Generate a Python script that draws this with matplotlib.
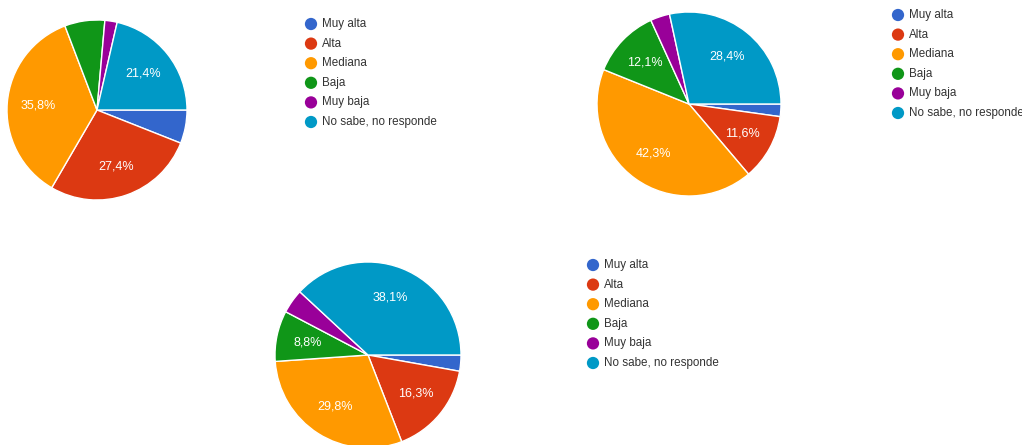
import matplotlib.pyplot as plt

plt.rcParams['font.family'] = ['Liberation Sans', 'DejaVu Sans']

categories = ['Muy alta', 'Alta', 'Mediana', 'Baja', 'Muy baja', 'No sabe, no responde']
colors = ['#3366cc', '#dc3912', '#ff9900', '#109618', '#990099', '#0099c6']

pie1 = [6.0, 27.4, 35.8, 7.2, 2.2, 21.4]
pie2 = [2.2, 11.6, 42.3, 12.1, 3.4, 28.4]
pie3 = [2.8, 16.3, 29.8, 8.8, 4.2, 38.1]

W, H = 1022, 445
fig = plt.figure(figsize=(W / 100, H / 100), dpi=100)

# (pie center x, center y, radius, legend x, legend top y) in pixels
layout = [
    (pie1, 97, 110, 90, 311, 24),
    (pie2, 689, 104, 92, 898, 15),
    (pie3, 368, 355, 93, 593, 265),
]

def pct(p):
    if p < 8:
        return ''
    return f'{p:.1f}%'.replace('.', ',')

for vals, cx, cy, r, lx, ly in layout:
    ax = fig.add_axes([(cx - r) / W, 1 - (cy + r) / H, 2 * r / W, 2 * r / H])
    wedges, texts, autotexts = ax.pie(vals, colors=colors, startangle=0, counterclock=False,
                                      autopct=pct, pctdistance=0.66,
                                      wedgeprops=dict(edgecolor='white', linewidth=1))
    for t in autotexts:
        t.set_color('white')
        t.set_fontsize(9)
    ax.set_xlim(-1, 1)
    ax.set_ylim(-1, 1)
    ax.set_aspect('equal')

# legends drawn on an overlay in pixel coordinates
lg = fig.add_axes([0, 0, 1, 1])
lg.set_xlim(0, W)
lg.set_ylim(H, 0)
lg.axis('off')
lg.patch.set_alpha(0)
for vals, cx, cy, r, lx, ly in layout:
    for i, (name, c) in enumerate(zip(categories, colors)):
        y = ly + i * 19.6
        lg.scatter([lx], [y], s=78, color=c, edgecolors='none')
        lg.text(lx + 11, y, name, fontsize=8.4, color='#333333', va='center', ha='left')

plt.savefig('out.png', dpi=100)
